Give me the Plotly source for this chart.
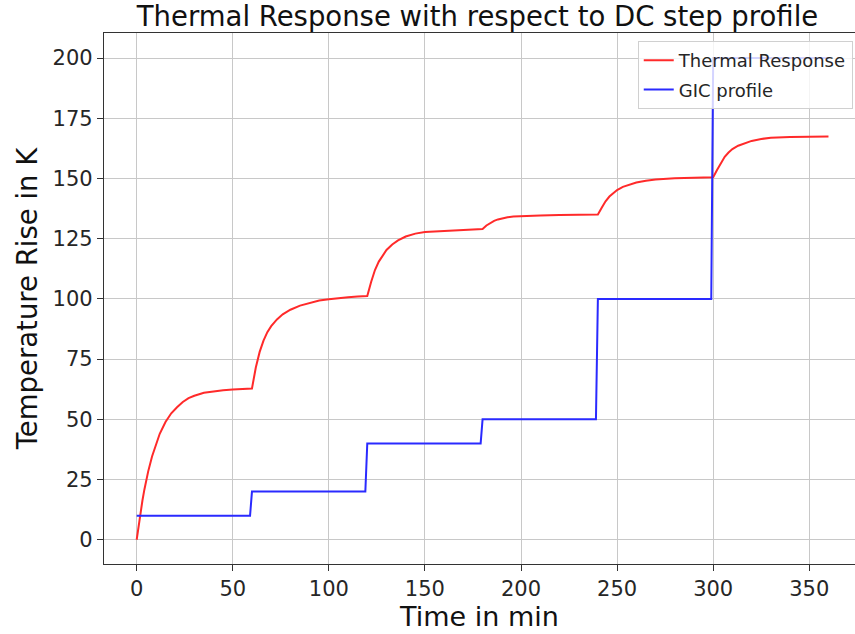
import plotly.graph_objects as go

# Thermal response
thermal_t = [0, 1, 2, 3, 4, 5, 6, 8, 10, 12, 15, 18, 21, 24, 27, 30, 35, 40, 45, 50, 55, 60,
             62, 64, 66, 68, 70, 73, 76, 80, 85, 90, 95, 100, 105, 110, 115, 120,
             122, 124, 126, 128, 130, 133, 136, 140, 145, 150, 160, 170, 180,
             182, 184, 186, 188, 190, 193, 196, 200, 210, 220, 230, 240,
             242, 244, 246, 248, 250, 253, 256, 260, 265, 270, 280, 290, 300,
             302, 304, 306, 308, 310, 313, 316, 320, 325, 330, 340, 350, 360]
thermal_v = [0, 6.0, 11.4, 16.3, 20.8, 24.8, 28.4, 34.6, 39.8, 44.0, 48.9, 52.5, 55.0, 57.2, 58.8, 59.8, 61.0, 61.7, 62.1, 62.4, 62.6, 62.8,
             71.5, 78.0, 82.7, 86.2, 88.7, 91.5, 93.6, 95.5, 97.2, 98.4, 99.3, 99.9, 100.4, 100.7, 101.0, 101.2,
             107.0, 112.0, 115.5, 118.2, 120.3, 122.6, 124.3, 125.9, 127.1, 127.8, 128.3, 128.7, 129.0,
             130.5, 131.6, 132.4, 133.0, 133.4, 133.9, 134.2, 134.4, 134.6, 134.8, 134.9, 135.0,
             137.8, 140.5, 142.5, 144.0, 145.2, 146.5, 147.4, 148.3, 149.1, 149.6, 150.1, 150.3, 150.5,
             153.5, 156.5, 159.0, 160.8, 162.2, 163.6, 164.6, 165.6, 166.4, 166.9, 167.2, 167.3, 167.4]

# GIC step profile
gic_t = [0, 59, 60, 119, 120, 179, 180, 239, 240, 299, 300, 360]
gic_v = [10, 10, 20, 20, 40, 40, 50, 50, 100, 100, 200, 200]

x_ticks = [0, 50, 100, 150, 200, 250, 300, 350]
y_ticks = [0, 25, 50, 75, 100, 125, 150, 175, 200]

FONT = "DejaVu Sans"
TXT = "#262626"

fig = go.Figure()
fig.add_trace(go.Scatter(x=thermal_t, y=thermal_v, mode="lines", name="Thermal Response",
                         legendgroup="a", line=dict(color="#ff2a2a", width=2)))
fig.add_trace(go.Scatter(x=gic_t, y=gic_v, mode="lines", name="GIC profile",
                         legendgroup="b", line=dict(color="#2a2aff", width=2)))

axis_common = dict(
    showline=True, linecolor="#333333", linewidth=1.2, mirror=True,
    ticks="outside", ticklen=6, tickwidth=1.2, tickcolor="#333333",
    showgrid=True, gridcolor="#c8c8c8", gridwidth=1, zeroline=False,
    tickfont=dict(family=FONT, size=21, color=TXT),
)

fig.update_layout(
    width=855, height=634,
    margin=dict(l=104, r=0, t=33, b=70),
    paper_bgcolor="white", plot_bgcolor="white",
    title=dict(text="Thermal Response with respect to DC step profile",
               x=(477.5) / 855, xanchor="center", y=1 - 16 / 634, yanchor="middle",
               font=dict(family=FONT, size=27.5, color="#111111")),
    xaxis=dict(range=[-17.0, 373.8], tickvals=x_ticks,
               title=dict(text="Time in min", standoff=6,
                          font=dict(family=FONT, size=27, color="#111111")),
               **axis_common),
    yaxis=dict(range=[-10.06, 210.4], tickvals=y_ticks,
               title=dict(text="Temperature Rise in K", standoff=6,
                          font=dict(family=FONT, size=27.5, color="#111111")),
               **axis_common),
    legend=dict(x=0.997, xanchor="right", y=0.985, yanchor="top",
                bgcolor="rgba(255,255,255,0.8)", bordercolor="#d0d0d0", borderwidth=1,
                tracegroupgap=3,
                font=dict(family=FONT, size=18, color=TXT)),
    showlegend=True,
)

fig.write_html("out.html")
